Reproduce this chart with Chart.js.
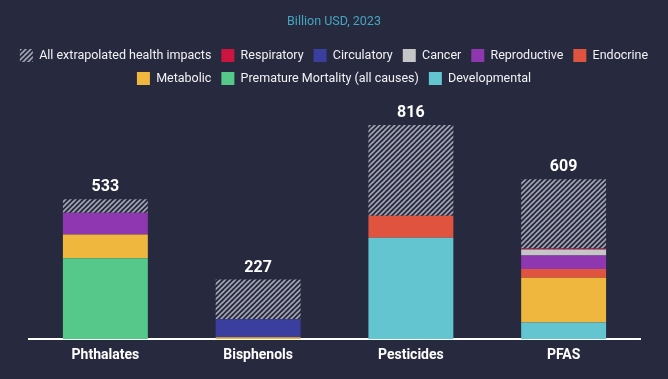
<!DOCTYPE html>
<html>
<head>
<meta charset="utf-8">
<script src="https://cdn.jsdelivr.net/npm/chart.js@4.4.1/dist/chart.umd.min.js"></script>
<style>
  html, body { margin: 0; padding: 0; background: #272a3e; }
  #wrap { width: 668px; height: 379px; position: relative; }
</style>
</head>
<body>
<div id="wrap"><canvas id="healthChart"></canvas></div>
<script>
/* ── data (billion USD, 2023) ── */
const categories = ['Phthalates', 'Bisphenols', 'Pesticides', 'PFAS'];
const totals = [533, 227, 816, 609];

const developmental = [0, 0, 386, 64];
const prematureMortality = [308, 0, 0, 0];
const metabolic = [91, 7, 0, 170];
const endocrine = [0, 0, 84, 33];
const reproductive = [83, 0, 0, 52];
const cancer = [0, 0, 0, 23];
const circulatory = [0, 69, 0, 0];
const respiratory = [0, 0, 0, 3];
const extrapolated = [51, 151, 346, 264];

const BG = '#272a3e';
const FONT = 'Roboto';

function makeHatch() {
  const s = 5;
  const c = document.createElement('canvas');
  c.width = s; c.height = s;
  const g = c.getContext('2d');
  g.fillStyle = BG;
  g.fillRect(0, 0, s, s);
  g.strokeStyle = '#a3a5b4';
  g.lineWidth = 1.6;
  g.beginPath();
  g.moveTo(0, s); g.lineTo(s, 0);
  g.moveTo(-1, 1); g.lineTo(1, -1);
  g.moveTo(s - 1, s + 1); g.lineTo(s + 1, s - 1);
  g.stroke();
  return g.createPattern(c, 'repeat');
}
const hatch = makeHatch();

// stacked bottom -> top; legend shows them reversed
const datasets = [
  { label: 'Developmental', data: developmental, backgroundColor: '#62c5cf' },
  { label: 'Premature Mortality (all causes)', data: prematureMortality, backgroundColor: '#55c88a' },
  { label: 'Metabolic', data: metabolic, backgroundColor: '#f0b73f' },
  { label: 'Endocrine', data: endocrine, backgroundColor: '#e0543f' },
  { label: 'Reproductive', data: reproductive, backgroundColor: '#8f37b1' },
  { label: 'Cancer', data: cancer, backgroundColor: '#c6c6c8' },
  { label: 'Circulatory', data: circulatory, backgroundColor: '#3a3f9f' },
  { label: 'Respiratory', data: respiratory, backgroundColor: '#cc1441' },
  { label: 'All extrapolated health impacts', data: extrapolated, backgroundColor: hatch }
];

// total above each bar
const totalLabels = {
  id: 'totalLabels',
  afterDatasetsDraw(chart) {
    const ctx = chart.ctx;
    const meta = chart.getDatasetMeta(datasets.length - 1);
    ctx.save();
    ctx.fillStyle = '#ffffff';
    ctx.font = `bold 16px ${FONT}`;
    ctx.textAlign = 'center';
    ctx.textBaseline = 'middle';
    meta.data.forEach((bar, i) => {
      ctx.fillText(totals[i], bar.x, bar.y - 12);
    });
    ctx.restore();
  }
};

new Chart(document.getElementById('healthChart'), {
  type: 'bar',
  data: { labels: categories, datasets: datasets },
  plugins: [totalLabels],
  options: {
    responsive: true,
    maintainAspectRatio: false,
    animation: false,
    layout: { padding: { left: 0, right: 0, top: 10, bottom: 7 } },
    datasets: { bar: { barPercentage: 0.556, categoryPercentage: 1, borderWidth: 0 } },
    plugins: {
      tooltip: { enabled: false },
      title: {
        display: true,
        text: 'Billion USD, 2023',
        color: '#45a6bf',
        font: { family: FONT, size: 12.5, weight: 'normal' },
        padding: { top: 4, bottom: 10 }
      },
      legend: {
        reverse: true,
        labels: {
          color: '#f2f2f4',
          font: { family: FONT, size: 12.5 },
          boxWidth: 13,
          boxHeight: 13,
          padding: 10
        }
      }
    },
    scales: {
      x: {
        stacked: true,
        grid: { display: false, drawTicks: false },
        border: { display: true, color: '#ffffff', width: 2 },
        ticks: { color: '#ffffff', font: { family: FONT, size: 14, weight: 'bold' }, padding: 8 }
      },
      y: {
        stacked: true,
        min: 0,
        max: 930,
        grid: { display: false },
        border: { display: false },
        ticks: { display: false },
        afterFit: s => { s.width = 29; }
      },
      yr: {
        position: 'right',
        min: 0,
        max: 930,
        grid: { display: false },
        border: { display: false },
        ticks: { display: false },
        afterFit: s => { s.width = 28; }
      }
    }
  }
});
</script>
</body>
</html>
